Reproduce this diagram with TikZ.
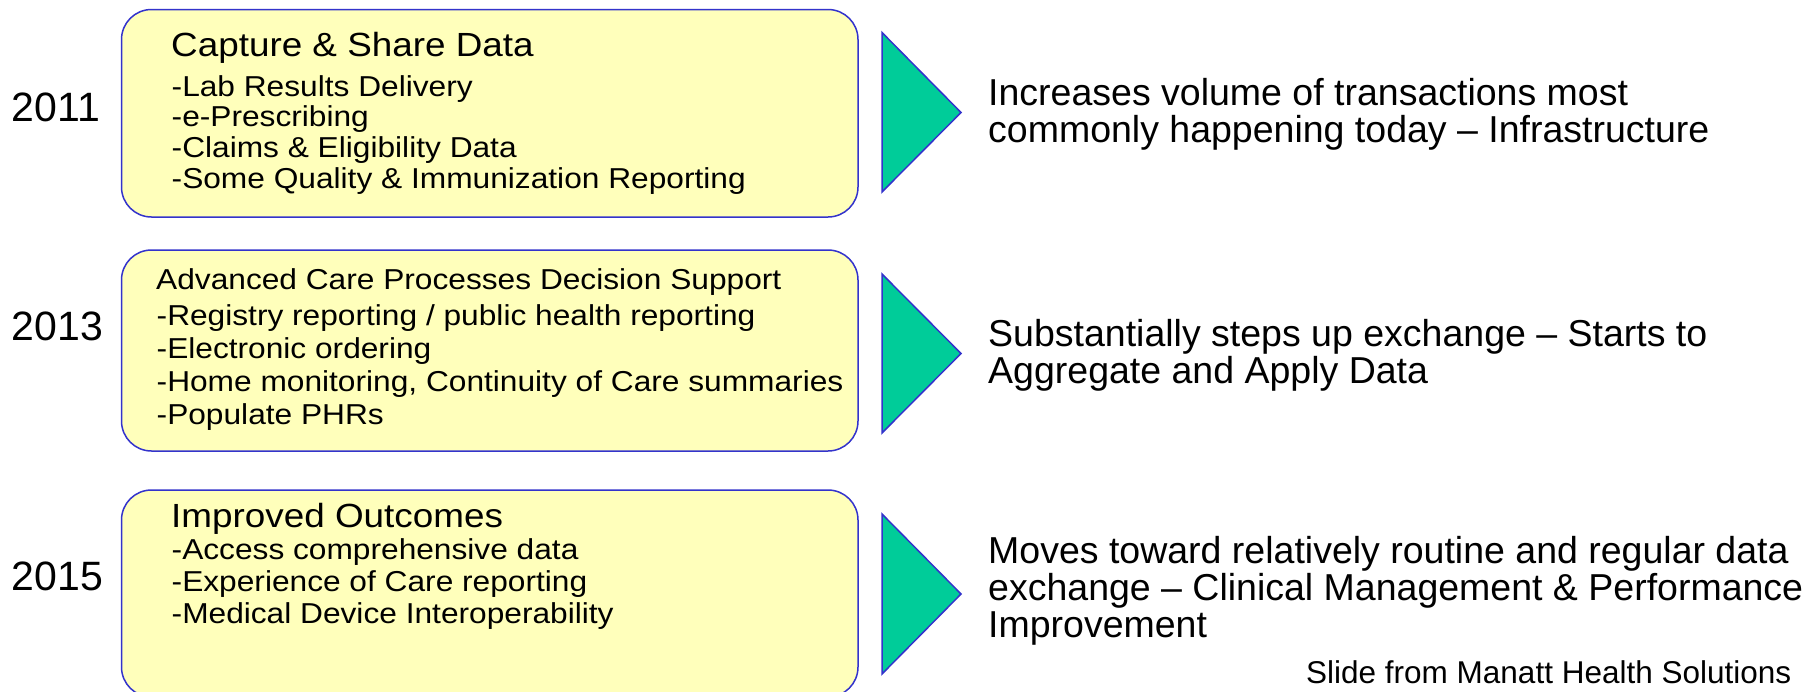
\documentclass[tikz,border=0pt]{standalone}
\usepackage{fontspec}
\setmainfont{Liberation Sans}
\newfontfamily\boxfont{Liberation Sans}[FakeStretch=1.1]
\definecolor{boxfill}{HTML}{FFFFBB}
\definecolor{boxline}{HTML}{3333CC}
\definecolor{arrowfill}{HTML}{00CC99}

\begin{document}
\begin{tikzpicture}[x=1pt, y=-1pt]
            % Define styles
            \tikzstyle{stage} = [rectangle, draw=boxline, fill=boxfill, line width=1.5pt, rounded corners=30pt, minimum width=736.5pt]
            \tikzstyle{year} = [anchor=base west, inner sep=0pt, font=\fontsize{41}{41}\selectfont]
            \tikzstyle{head} = [anchor=base west, inner sep=0pt, font=\boxfont\fontsize{33.5}{33.5}\selectfont]
            \tikzstyle{item} = [anchor=base west, inner sep=0pt, font=\boxfont\fontsize{28.8}{28.8}\selectfont]
            \tikzstyle{pointer} = [draw=boxline, fill=arrowfill, line width=1.5pt, line join=miter]
            \tikzstyle{note} = [anchor=base west, inner sep=0pt, font=\fontsize{37.5}{37.5}\selectfont]
            \tikzstyle{credit} = [anchor=base west, inner sep=0pt, font=\fontsize{31.5}{31.5}\selectfont]

            \clip (0,0) rectangle (1815,691);
            \fill[white] (0,0) rectangle (1815,691);

            % Years
            \node (y2011) [year] at (11.7,121) {2011};
            \node (y2013) [year] at (11.7,340) {2013};
            \node (y2015) [year] at (11.7,590) {2015};

            % Boxes
            \node (box2011) [stage, minimum height=207.5pt] at (489.75,113.25) {};
            \node (box2013) [stage, minimum height=201pt] at (489.75,350.5) {};
            \node (box2015) [stage, minimum height=207pt] at (489.75,593.5) {};

            % First box
            \node (head2011) [head] at (171,56) {Capture \& Share Data};
            \foreach \txt [count=\i] in {-Lab Results Delivery, -e-Prescribing, -Claims \& Eligibility Data, -Some Quality \& Immunization Reporting}
                \node (item2011-\i) [item] at (171.5,{96+30.7*(\i-1)}) {\txt};

            % Second box
            \node (head2013) [item] at (156,289) {Advanced Care Processes Decision Support};
            \foreach \txt [count=\i] in {-Registry reporting / public health reporting, -Electronic ordering, {-Home monitoring, Continuity of Care summaries}, -Populate PHRs}
                \node (item2013-\i) [item] at (156.5,{325+33.3*(\i-1)}) {\txt};

            % Third box
            \node (head2015) [head] at (171,527) {Improved Outcomes};
            \foreach \txt [count=\i] in {-Access comprehensive data, -Experience of Care reporting, -Medical Device Interoperability}
                \node (item2015-\i) [item] at (171.5,{559+32*(\i-1)}) {\txt};

            % Triangles
            \draw [pointer] (882,32.5) -- (961,112.5) -- (882,192) -- cycle;
            \draw [pointer] (882,274) -- (961,353.5) -- (882,433) -- cycle;
            \draw [pointer] (882,514) -- (961,594) -- (882,674) -- cycle;

            % Notes on the right
            \foreach \txt [count=\i] in {Increases volume of transactions most, commonly happening today -- Infrastructure}
                \node (note2011-\i) [note] at (988,{105+37*(\i-1)}) {\txt};
            \foreach \txt [count=\i] in {Substantially steps up exchange -- Starts to, Aggregate and Apply Data}
                \node (note2013-\i) [note] at (988,{346+37*(\i-1)}) {\txt};
            \foreach \txt [count=\i] in {Moves toward relatively routine and regular data, exchange -- Clinical Management \& Performance, Improvement}
                \node (note2015-\i) [note] at (988,{563+37*(\i-1)}) {\txt};

            % Source
            \node (source) [credit] at (1306,683) {Slide from Manatt Health Solutions};
        \end{tikzpicture}
\end{document}
